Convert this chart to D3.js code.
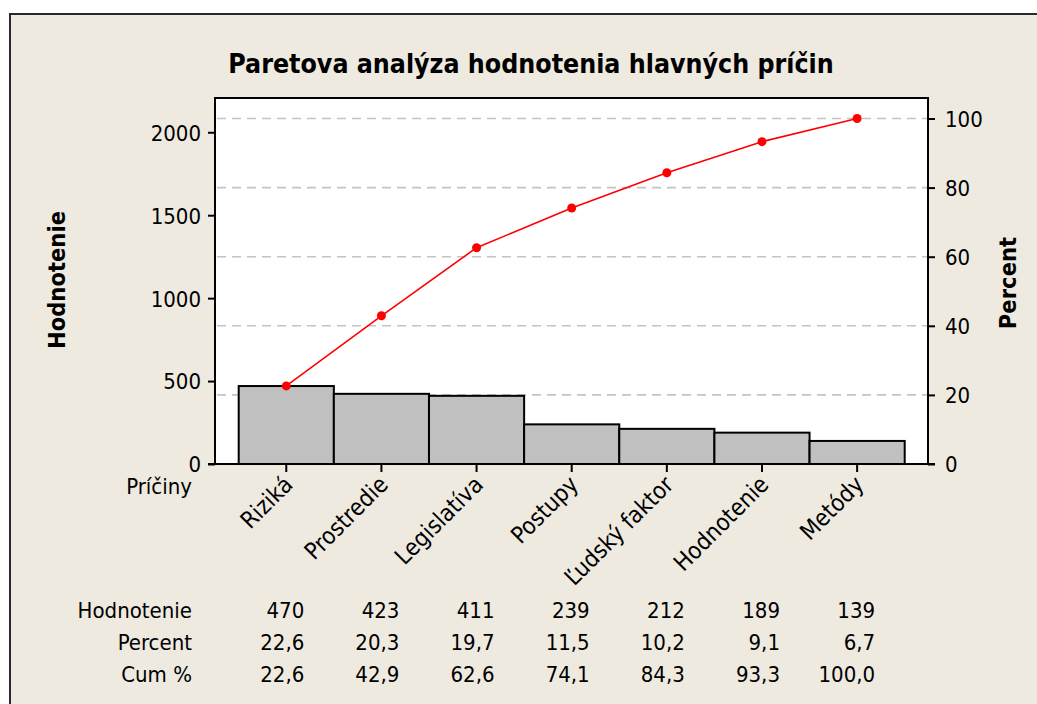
<!DOCTYPE html>
<html><head><meta charset="utf-8">
<script src="https://cdn.jsdelivr.net/npm/d3@7"></script>
<style>
html,body{margin:0;padding:0;background:#fff;}
svg{display:block;}
text{font-family:"DejaVu Sans Condensed","DejaVu Sans",sans-serif;fill:#000;}
</style></head>
<body>
<svg id="chart" width="1037" height="704"></svg>
<script>
const categories = ["Riziká","Prostredie","Legislatíva","Postupy","Ľudský faktor","Hodnotenie","Metódy"];
const counts = [470,423,411,239,212,189,139];
const percents = ["22,6","20,3","19,7","11,5","10,2","9,1","6,7"];
const cumPercents = [22.6,42.9,62.6,74.1,84.3,93.3,100.0];
const cumLabels = ["22,6","42,9","62,6","74,1","84,3","93,3","100,0"];
const leftTicks = [0,500,1000,1500,2000];
const rightTicks = [0,20,40,60,80,100];
const rowLabels = ["Hodnotenie","Percent","Cum %"];
const title = "Paretova analýza hodnotenia hlavných príčin";

const total = d3.sum(counts);
const svg = d3.select("#chart");

// outer frame
svg.append("rect").attr("x",10).attr("y",14).attr("width",1060).attr("height",720)
  .attr("fill","#EEEAE0").attr("stroke","#2a2a2a").attr("stroke-width",2);

const plot = {left:215, right:928, top:98, bottom:464};
const yTop100 = 118.5;

const yL = d3.scaleLinear().domain([0,total]).range([plot.bottom,yTop100]);
const yR = d3.scaleLinear().domain([0,100]).range([plot.bottom,yTop100]);
const x = d3.scaleBand().domain(categories).range([238.7,904.7]).padding(0);
const cx = c => x(c) + x.bandwidth()/2;

// plot area
svg.append("rect").attr("x",plot.left).attr("y",plot.top)
  .attr("width",plot.right-plot.left).attr("height",plot.bottom-plot.top)
  .attr("fill","#fff");

// gridlines
svg.append("g").selectAll("line").data(rightTicks.filter(d=>d>0)).join("line")
  .attr("x1",plot.left+2).attr("x2",plot.right)
  .attr("y1",d=>yR(d)).attr("y2",d=>yR(d))
  .attr("stroke","#C4C4C4").attr("stroke-width",1.6).attr("stroke-dasharray","9,6");

// bars
svg.append("g").selectAll("rect").data(categories).join("rect")
  .attr("x",d=>x(d)).attr("width",x.bandwidth())
  .attr("y",(d,i)=>yL(counts[i])).attr("height",(d,i)=>plot.bottom-yL(counts[i]))
  .attr("fill","#C0C0C0").attr("stroke","#000").attr("stroke-width",2);

// plot frame
svg.append("rect").attr("x",plot.left).attr("y",plot.top)
  .attr("width",plot.right-plot.left).attr("height",plot.bottom-plot.top)
  .attr("fill","none").attr("stroke","#000").attr("stroke-width",2);

// cumulative line
const line = d3.line().x((d,i)=>cx(categories[i])).y(d=>yR(d));
svg.append("path").datum(cumPercents).attr("d",line)
  .attr("fill","none").attr("stroke","#FF0000").attr("stroke-width",1.6);
svg.append("g").selectAll("circle").data(cumPercents).join("circle")
  .attr("cx",(d,i)=>cx(categories[i])).attr("cy",d=>yR(d)).attr("r",4.5)
  .attr("fill","#FF0000");

// left axis
const axL = d3.axisLeft(yL).tickValues(leftTicks).tickFormat(d3.format("d")).tickSize(7).tickPadding(7);
const gL = svg.append("g").attr("transform",`translate(${plot.left},0)`).call(axL);
gL.select(".domain").remove();
gL.selectAll(".tick line").attr("stroke","#000").attr("stroke-width",2);
gL.selectAll(".tick text").style("font-size","22px").attr("font-family",null).attr("dy","0.36em");

// right axis
const axR = d3.axisRight(yR).tickValues(rightTicks).tickFormat(d3.format("d")).tickSize(7).tickPadding(10);
const gR = svg.append("g").attr("transform",`translate(${plot.right},0)`).call(axR);
gR.select(".domain").remove();
gR.selectAll(".tick line").attr("stroke","#000").attr("stroke-width",2);
gR.selectAll(".tick text").style("font-size","22px").attr("font-family",null).attr("dy","0.36em");

// bottom axis ticks
const axB = d3.axisBottom(x).tickSize(8).tickFormat("");
const gB = svg.append("g").attr("transform",`translate(0,${plot.bottom})`).call(axB);
gB.select(".domain").remove();
gB.selectAll(".tick line").attr("stroke","#000").attr("stroke-width",2);
svg.append("line").attr("x1",plot.left-7).attr("x2",plot.right+7)
  .attr("y1",plot.bottom).attr("y2",plot.bottom).attr("stroke","#000").attr("stroke-width",2);

// rotated category labels
svg.append("g").selectAll("text").data(categories).join("text")
  .attr("transform",d=>`translate(${cx(d)+8},${plot.bottom+22}) rotate(-45)`)
  .attr("text-anchor","end").style("font-size","23.5px").text(d=>d);

svg.append("text").attr("x",192).attr("y",494).attr("text-anchor","end")
  .style("font-size","22px").text("Príčiny");

// title
svg.append("text").attr("x",531).attr("y",73).attr("text-anchor","middle")
  .style("font-size","26.5px").style("font-weight","bold").text(title);

// axis titles
svg.append("text").attr("transform","translate(65,280) rotate(-90)").attr("text-anchor","middle")
  .style("font-size","23.5px").style("font-weight","bold").text("Hodnotenie");
svg.append("text").attr("transform","translate(1016,283) rotate(-90)").attr("text-anchor","middle")
  .style("font-size","23.5px").style("font-weight","bold").text("Percent");

// table
const rows = [counts.map(String), percents, cumLabels];
const rowY = [618,650,682];
rows.forEach((vals,r)=>{
  svg.append("text").attr("x",192).attr("y",rowY[r]).attr("text-anchor","end")
    .style("font-size","22px").text(rowLabels[r]);
  svg.append("g").selectAll("text").data(vals).join("text")
    .attr("x",(d,i)=>cx(categories[i])+18).attr("y",rowY[r]).attr("text-anchor","end")
    .style("font-size","22px").text(d=>d);
});
</script>
</body></html>
